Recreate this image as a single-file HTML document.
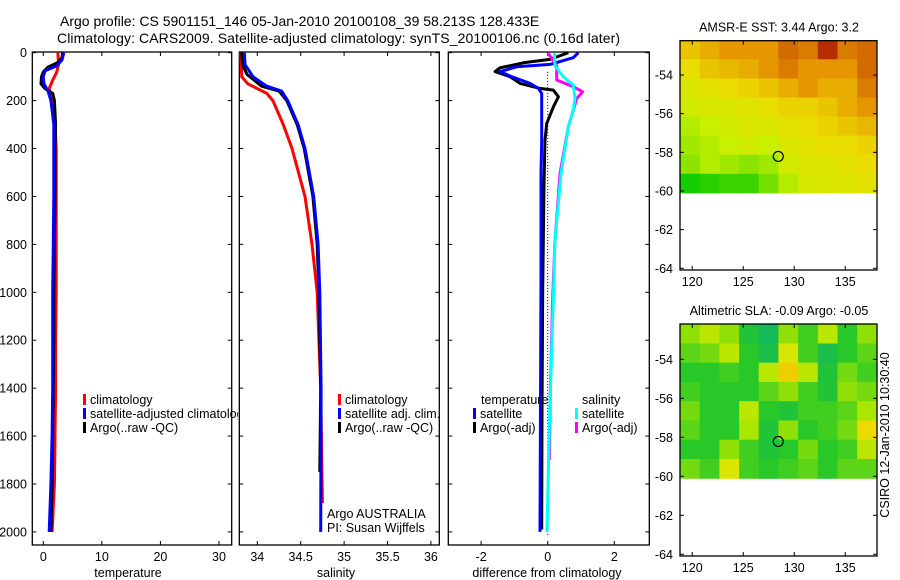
<!DOCTYPE html>
<html><head><meta charset="utf-8"><style>
body{margin:0;background:#fff}
svg{display:block;font-family:"Liberation Sans",sans-serif}
text{fill:#000}
</style></head><body>
<svg id="c" width="900" height="580" viewBox="0 0 900 580" xmlns="http://www.w3.org/2000/svg">
<defs><clipPath id="cp1"><rect x="0" y="0" width="238" height="580"/></clipPath></defs>
<text x="60" y="26" font-size="14">Argo profile: CS 5901151_146 05-Jan-2010 20100108_39 58.213S 128.433E</text>
<text x="57" y="43" font-size="14" textLength="563">Climatology: CARS2009. Satellite-adjusted climatology: synTS_20100106.nc (0.16d later)</text>
<g id="g"></g>
</svg>
<script>
// ---- data ----
const depthTicks=[0,200,400,600,800,1000,1200,1400,1600,1800,2000];
const tempTicks=[0,10,20,30];
const salTicks=[34,34.5,35,35.5,36];
const diffTicks=[-2,0,2];
const lonTicks=[120,125,130,135];
const latTicks=[-54,-56,-58,-60,-62,-64];

const tClimD=[0,50,80,120,150,180,250,400,600,800,1000,1200,1400,1600,1800,2000];
const tClimV=[2.5,2.6,2.3,1.5,1.0,1.2,1.9,2.2,2.2,2.2,2.2,2.1,2.1,2.0,1.9,1.5];
const tSatD=[0,30,55,75,100,130,160,200,260,300,400,600,800,1000,1200,1400,1600,1800,2000];
const tSatV=[3.5,3.2,2.3,0.3,0.0,0.1,0.8,1.3,1.6,1.8,1.8,1.8,1.7,1.6,1.6,1.6,1.5,1.3,1.0];
const tArgoD=[0,20,40,60,80,100,130,150,170,200,300,400,600,800,1000,1200,1400,1600,1800,2000];
const tArgoV=[3.3,3.2,2.6,0.8,0.0,-0.3,-0.4,0.3,1.6,1.9,2.1,2.0,2.0,1.9,1.8,1.8,1.7,1.6,1.5,1.3];

const sClimD=[0,100,130,170,200,300,400,600,800,1000,1200,1400,1880];
const sClimV=[33.81,33.82,33.89,34.11,34.18,34.30,34.40,34.55,34.63,34.69,34.71,34.73,34.75];
const sSatD=[0,50,100,140,160,200,300,400,600,800,1000,1400,2000];
const sSatV=[33.85,33.86,33.95,34.11,34.28,34.35,34.47,34.55,34.65,34.70,34.72,34.735,34.73];
const sArgoD=[0,50,90,140,160,200,300,400,600,800,1000,1400,1750];
const sArgoV=[33.82,33.83,33.88,34.05,34.25,34.34,34.46,34.54,34.64,34.69,34.71,34.73,34.72];

const dTArgoD=[0,28,42,63,79,100,128,149,156,184,226,296,365,546,990,1500,1990];
const dTArgoV=[0.62,0.07,-0.73,-1.43,-1.58,-1.13,-0.83,-0.23,0.17,0.32,0.17,-0.03,-0.08,-0.11,-0.15,-0.17,-0.18];
const dTSatD=[0,21,49,59,79,100,128,149,170,365,505,920,2000];
const dTSatV=[0.92,0.77,0.07,-0.93,-1.43,-1.08,-0.53,-0.28,-0.18,-0.18,-0.2,-0.2,-0.23];
const dSArgoD=[0,55,114,142,163,191,240,310,505,783,1020,1400,1700];
const dSArgoV=[0.0,0.27,0.27,0.77,1.05,0.87,0.77,0.62,0.37,0.22,0.15,0.08,0.05];
const dSSatD=[0,55,100,135,191,240,310,505,783,1020,1500,2000];
const dSSatV=[0.2,0.22,0.47,0.77,0.82,0.77,0.62,0.4,0.22,0.17,0.06,-0.02];

const sstGrid=[
[.75,.8,.85,.85,.85,.9,.88,.97,.88,.9],
[.68,.75,.78,.8,.85,.88,.85,.85,.85,.9],
[.6,.65,.7,.72,.75,.8,.85,.8,.8,.88],
[.55,.58,.6,.62,.68,.72,.72,.75,.8,.85],
[.45,.5,.55,.6,.6,.65,.7,.72,.75,.78],
[.4,.45,.5,.55,.5,.6,.65,.68,.7,.72],
[.35,.45,.4,.35,.4,.55,.62,.62,.65,.7],
[.05,.1,.15,.15,.3,.45,.58,.6,.62,.65]];
const slaGrid=[
[.5,.6,.5,.25,.15,.5,.35,.6,.3,.5],
[.4,.45,.6,.3,.2,.7,.35,.2,.3,.4],
[.3,.3,.35,.3,.6,.85,.6,.25,.45,.35],
[.35,.3,.3,.3,.4,.5,.35,.25,.5,.45],
[.45,.3,.3,.6,.3,.25,.35,.35,.4,.55],
[.4,.3,.3,.55,.25,.5,.3,.35,.45,.8],
[.3,.3,.5,.35,.25,.3,.45,.3,.35,.6],
[.45,.35,.7,.35,.3,.35,.4,.3,.4,.4]];
const argoLon=128.433, argoLat=-58.213;

// ---- drawing ----
const NS='http://www.w3.org/2000/svg';
const G=document.getElementById('g');
function el(t,a,p){const e=document.createElementNS(NS,t);for(const k in a)e.setAttribute(k,a[k]);(p||G).appendChild(e);return e;}
function txt(x,y,s,anchor,size,p){const e=el('text',{x:x,y:y,'font-size':size||12.5,'text-anchor':anchor||'start'},p);e.textContent=s;return e;}
const Y=d=>52.7+0.2396*d;
const T=v=>43.3+5.857*v;
const S=v=>257.3+86.8*(v-34);
const D=v=>547.7+33.3*v;

function box(x0,x1,y0,y1,name){const r=el('rect',{x:x0,y:y0,width:x1-x0,height:y1-y0,fill:'none',stroke:'#000','stroke-width':1.3});

}
function line(xs,ds,sx,col,name,w,dash){
 const pts=xs.map((v,i)=>sx(v).toFixed(1)+','+Y(ds[i]).toFixed(1)).join(' ');
 const p=el('polyline',{points:pts,fill:'none',stroke:col,'stroke-width':w||3,'stroke-linejoin':'round'});
 if(dash)p.setAttribute('stroke-dasharray',dash);
 
 }
function xTicks(ticks,sx,top,bot,lab){ticks.forEach(t=>{const x=sx(t);el('line',{x1:x,x2:x,y1:top,y2:top+4,stroke:'#000'});el('line',{x1:x,x2:x,y1:bot,y2:bot-4,stroke:'#000'});
 const e=txt(x,bot+16,String(t),'middle');});}
function yTicks(x0,x1){depthTicks.forEach(d=>{el('line',{x1:x0,x2:x0+4,y1:Y(d),y2:Y(d),stroke:'#000'});el('line',{x1:x1,x2:x1-4,y1:Y(d),y2:Y(d),stroke:'#000'});});}
function legend(x,y,items,p){items.forEach((it,i)=>{el('rect',{x:x,y:y+i*14-10,width:3,height:11,fill:it[0]},p);const e=txt(x+7,y+i*14,it[1],'start',12.5,p);});}

// panel 1 temperature
box(32.3,231.7,52,545,'temperature-axes');
depthTicks.forEach(d=>{const e=txt(27,Y(d)+4.5,String(d),'end');});
yTicks(32.3,231.7);xTicks(tempTicks,T,52,545);
line(tClimV,tClimD,T,'#f00','temp-climatology-line');
line(tArgoV,tArgoD,T,'#000','temp-argo-line');
line(tSatV,tSatD,T,'#00f','temp-satellite-line');
txt(128,577,'temperature','middle');
const lg1=el('g',{'clip-path':'url(#cp1)'});
legend(83,404,[['#f00','climatology'],['#00f','satellite-adjusted climatology'],['#000','Argo(..raw -QC)']],lg1);

// panel 2 salinity
box(239.3,439.3,52,545,'salinity-axes');
yTicks(239.3,439.3);xTicks(salTicks,S,52,545);
line(sClimV,sClimD,S,'#f00','sal-climatology-line');
line(sArgoV,sArgoD,S,'#000','sal-argo-line');
line(sSatV,sSatD,S,'#00f','sal-satellite-line');
txt(336,577,'salinity','middle');
legend(338,404,[['#f00','climatology'],['#00f','satellite adj. clim.'],['#000','Argo(..raw -QC)']]);
txt(327,518,'Argo AUSTRALIA');
txt(327,532,'PI: Susan Wijffels');

// panel 3 difference
box(448.3,649.3,52,545,'difference-axes');
yTicks(448.3,649.3);xTicks(diffTicks,D,52,545);
el('line',{x1:D(0),x2:D(0),y1:Y(80),y2:Y(2020),stroke:'#000','stroke-dasharray':'1,2'});
line(dTArgoV,dTArgoD,D,'#000','temp-diff-argo-line');
line(dTSatV,dTSatD,D,'#00f','temp-diff-satellite-line');
line(dSArgoV,dSArgoD,D,'#f0f','sal-diff-argo-line');
line(dSSatV,dSSatD,D,'#0ff','sal-diff-satellite-line');
txt(547,577,'difference from climatology','middle');
txt(481,404,'temperature');txt(582,404,'salinity');
legend(473,418,[['#00f','satellite'],['#000','Argo(-adj)']]);
legend(575,418,[['#0ff','satellite'],['#f0f','Argo(-adj)']]);

// maps
const LX=l=>680+(l-118.8)*10.2;
function lerp(a,b,t){return a.map((v,i)=>Math.round(v+(b[i]-v)*t));}
function cmap(v,stops){for(let i=1;i<stops.length;i++){if(v<=stops[i][0]){const t=(v-stops[i-1][0])/(stops[i][0]-stops[i-1][0]);const c=lerp(stops[i-1][1],stops[i][1],t);return 'rgb('+c+')';}}return 'rgb('+stops[stops.length-1][1]+')';}
const sstStops=[[0,[0,200,0]],[0.5,[200,240,0]],[0.7,[235,220,0]],[0.85,[230,150,0]],[1,[170,20,0]]];
const slaStops=[[0,[0,170,140]],[0.3,[40,200,40]],[0.55,[170,230,0]],[0.75,[235,230,0]],[1,[245,170,0]]];
function mapPanel(top,y54,pxDeg,bot,grid,stops,title,name){
 const LY=lat=>y54+(-54-lat)*pxDeg;
 const lat0=-52.2,lat1=-60.1,lon0=118.8,lon1=138.1;
 const nr=grid.length,nc=grid[0].length;
 grid.forEach((row,r)=>row.forEach((v,c)=>{
  const la=lat0+(lat1-lat0)*r/nr, lb=lat0+(lat1-lat0)*(r+1)/nr;
  const oa=lon0+(lon1-lon0)*c/nc, ob=lon0+(lon1-lon0)*(c+1)/nc;
  const e=el('rect',{x:LX(oa).toFixed(1),y:LY(la).toFixed(1),width:(LX(ob)-LX(oa)+0.5).toFixed(1),height:(LY(lb)-LY(la)+0.5).toFixed(1),fill:cmap(v,stops)});
  
  
 }));
 box(680,877,top,bot,name+'-axes');
 latTicks.forEach(l=>{const y=LY(l);el('line',{x1:680,x2:684,y1:y,y2:y,stroke:'#000'});el('line',{x1:877,x2:873,y1:y,y2:y,stroke:'#000'});
  const e=txt(673,y+4.5,String(l),'end');});
 lonTicks.forEach(l=>{const x=LX(l);el('line',{x1:x,x2:x,y1:top,y2:top+4,stroke:'#000'});el('line',{x1:x,x2:x,y1:bot,y2:bot-4,stroke:'#000'});
  const e=txt(x,bot+16,String(l),'middle');});
 const c=el('circle',{cx:LX(argoLon),cy:LY(argoLat),r:5,fill:'none',stroke:'#000','stroke-width':1.2});
 
 
 const t=txt(779,top-9,title,'middle');
}
mapPanel(40.7,75,19.33,270,sstGrid,sstStops,'AMSR-E SST: 3.44 Argo: 3.2','sst-map');
mapPanel(324,359.3,19.5,556,slaGrid,slaStops,'Altimetric SLA: -0.09 Argo: -0.05','sla-map');
const ct=txt(0,0,'CSIRO 12-Jan-2010 10:30:40','middle');
ct.setAttribute('transform','translate(889,435) rotate(-90)');


</script>
</body></html>
